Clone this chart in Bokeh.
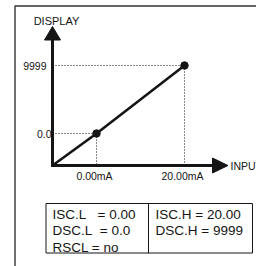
from bokeh.plotting import figure
from bokeh.models import Range1d
from bokeh.core.properties import value
from bokeh.embed import file_html
from bokeh.resources import INLINE

# ---- chart content ----
input_values = [0.00, 20.00]
input_labels = ["0.00mA", "20.00mA"]
display_values = [0.0, 9999]
display_labels = ["0.0", "9999"]
axis_titles = ["DISPLAY", "INPUT"]
table_left = ["ISC.L\u00a0\u00a0 = 0.00", "DSC.L\u00a0 = 0.0", "RSCL = no"]
table_right = ["ISC.H = 20.00", "DSC.H = 9999"]

# ---- layout (picture pixels) ----
W, H = 256, 266
PX_L, PX_T = 0, 0
ORX, ORY = 52, 165          # axes origin
P_LO = (96, 133)            # where the low calibration point sits
P_HI = (184, 65)            # where the high calibration point sits
kx = (P_HI[0] - P_LO[0]) / (input_values[1] - input_values[0])
ky = (P_LO[1] - P_HI[1]) / (display_values[1] - display_values[0])


def xv(px):
    return input_values[0] + (px - P_LO[0]) / kx


def yv(py):
    return display_values[0] + (P_LO[1] - py) / ky


FONT = value("Liberation Sans")
INK = "#151515"

p = figure(width=W, height=H, output_backend="svg", toolbar_location=None,
           x_range=Range1d(xv(PX_L), xv(PX_L + W)),
           y_range=Range1d(yv(PX_T + H), yv(PX_T)),
           x_axis_location=None, y_axis_location=None, min_border=0,
           outline_line_color=None, background_fill_color="white")
p.grid.visible = False
p.extra_x_ranges = {"px": Range1d(PX_L, PX_L + W)}
p.extra_y_ranges = {"px": Range1d(PX_T + H, PX_T)}
PXR = dict(x_range_name="px", y_range_name="px")

# outer frame
p.line(x=[14.5, 14.5, 260], y=[270, 5.5, 5.5], line_color="#333333", line_width=1.4, **PXR)

# axes with arrow heads
p.segment(x0=[ORX], y0=[39], x1=[ORX], y1=[ORY + 1.5], line_color=INK, line_width=3, **PXR)
p.segment(x0=[ORX - 1.5], y0=[ORY], x1=[213], y1=[ORY], line_color=INK, line_width=3, **PXR)
p.patch(x=[ORX - 8, ORX, ORX + 8], y=[39.5, 26, 39.5], fill_color=INK, line_color=INK, **PXR)
p.patch(x=[212, 227.5, 212], y=[ORY - 7.5, ORY, ORY + 7.5], fill_color=INK, line_color=INK, **PXR)

# axis titles
p.text(x=[56], y=[20], text=[axis_titles[0]], text_font=FONT, text_font_size=value("11px"),
       text_align="center", text_baseline="alphabetic", text_color=INK, **PXR)
p.text(x=[230], y=[ORY + 0.5], text=[axis_titles[1]], text_font=FONT, text_font_size=value("10.5px"),
       text_align="left", text_baseline="middle", text_color=INK, **PXR)

# dotted guides from calibration points to the axes
x_orig, y_orig = xv(ORX), yv(ORY)
for xi, yi in zip(input_values, display_values):
    p.line(x=[x_orig, xi], y=[yi, yi], line_color=INK, line_width=1.1, line_dash="1 2")
    p.line(x=[xi, xi], y=[yi, y_orig], line_color=INK, line_width=1.1, line_dash="1 2")

# scaling line
p.line(x=[x_orig] + input_values, y=[y_orig] + display_values, line_color=INK, line_width=2.6)
p.scatter(x=input_values, y=display_values, size=7.5, marker="circle", fill_color=INK, line_color=INK)

# tick-like labels
p.text(x=input_values, y=[yv(175)] * 2, text=input_labels, x_offset=-2, text_font=FONT,
       text_font_size=value("10.5px"), text_align="center", text_baseline="middle", text_color=INK)
label_right = [51, 46]
for yi, lab, rx in zip(display_values, display_labels, label_right):
    p.text(x=[xv(rx)], y=[yi], text=[lab], text_font=FONT, text_font_size=value("10.5px"),
           text_align="right", text_baseline="middle", text_color=INK)

# parameter table
p.quad(left=[45.5], right=[252], top=[203], bottom=[252.5], fill_color=None, line_color=INK, line_width=1, **PXR)
p.segment(x0=[148], y0=[203], x1=[148], y1=[252.5], line_color=INK, line_width=1, **PXR)
rows = [214, 230, 246.5]
p.text(x=[52] * len(table_left), y=rows[:len(table_left)], text=table_left, text_font=FONT,
       text_font_size=value("13.5px"), text_align="left", text_baseline="alphabetic", text_color=INK, **PXR)
p.text(x=[155] * len(table_right), y=rows[:len(table_right)], text=table_right, text_font=FONT,
       text_font_size=value("13.5px"), text_align="left", text_baseline="alphabetic", text_color=INK, **PXR)

open("out.html", "w").write(file_html(p, INLINE))
